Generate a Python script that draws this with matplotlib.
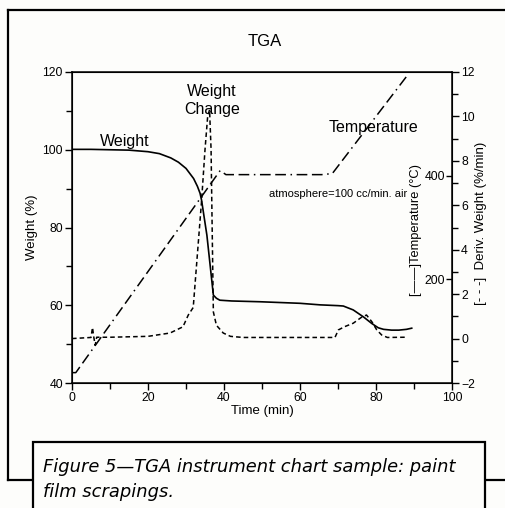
import numpy as np
import matplotlib
matplotlib.use("Agg")
import matplotlib.pyplot as plt
from matplotlib.lines import Line2D
from matplotlib.patches import Rectangle

plt.rcParams['font.family'] = ['Liberation Sans', 'DejaVu Sans']

# weight (%) vs time (min)
t_weight = [0, 5, 10, 15, 20, 23, 26, 28, 30, 31, 32, 33, 33.7, 34.1, 35.5,
            37.2, 38, 38.9, 42, 49.5, 60, 65.3, 70, 71.4, 74, 76.7, 78.9,
            80.6, 82, 84.1, 86, 88, 89.4]
weight = [100.1, 100.1, 100.0, 99.9, 99.5, 99.0, 97.9, 96.8, 95.2, 93.9, 92.6,
          90.6, 88.8, 87.0, 78.0, 62.6, 61.8, 61.3, 61.1, 60.9, 60.5, 60.1,
          59.9, 59.8, 58.8, 57.0, 55.3, 54.2, 53.8, 53.6, 53.6, 53.8, 54.1]

# derivative weight (%/min)
t_deriv = [0, 5, 5.4, 5.7, 6.1, 6.5, 10, 20, 25.8, 29.2, 30.6, 31.9, 34.1, 35.0,
           35.7, 36.2, 36.6, 36.8, 37.2, 38, 39.8, 41.7, 45, 55, 69.2, 70.1,
           71.8, 74, 76.2, 77.5, 78.9, 80.2, 81.5, 83, 87.6]
deriv = [0.0, 0.05, 0.5, 0.1, -0.3, 0.06, 0.06, 0.1, 0.25, 0.53, 1.06, 1.4, 6.2,
         8.5, 10.0, 10.3, 8.5, 6.0, 1.2, 0.6, 0.25, 0.1, 0.05, 0.05, 0.05, 0.39,
         0.54, 0.69, 0.96, 1.06, 0.76, 0.39, 0.16, 0.05, 0.06]

# temperature (degC)
t_temp = [0, 1, 39, 40.5, 65.7, 68.5, 88.1]
temp = [20, 20, 410, 402, 402, 404, 592]

x_ticks = [0, 20, 40, 60, 80, 100]
w_ticks = [40, 60, 80, 100, 120]
d_ticks = [-2, 0, 2, 4, 6, 8, 10, 12]
temp_ticks = [200, 400]

W, H = 505, 508
fig = plt.figure(figsize=(W / 100, H / 100), dpi=100)
fig.patch.set_facecolor('#fdfdfb')

def px(x, y):
    return x / W, 1 - y / H

ax = fig.add_axes([72 / W, 1 - 383 / H, 380 / W, 311 / H])
ax.set_facecolor('none')
ax.plot(t_weight, weight, color='black', lw=1.2)
ax.set_xlim(0, 100)
ax.set_ylim(40, 120)
ax.set_xticks(x_ticks)
ax.set_xticks(np.arange(10, 100, 20), minor=True)
ax.set_yticks(w_ticks)
ax.set_yticks([50, 70, 90, 110], minor=True)
ax.tick_params(direction='out', length=5, width=1, labelsize=8.8, pad=1.5)
ax.tick_params(which='minor', direction='out', length=4, width=1)
ax.tick_params(axis='y', right=False)
ax.set_xlabel('Time (min)', fontsize=9.5, labelpad=1)
ax.set_ylabel('Weight (%)', fontsize=9.5, labelpad=3)
for s in ax.spines.values():
    s.set_linewidth(1.1)

# derivative axis
ax2 = ax.twinx()
ax2.plot(t_deriv, deriv, color='black', lw=1.1, dashes=(3, 2))
ax2.set_ylim(-2, 12)
ax2.set_yticks(d_ticks)
ax2.set_yticks(np.arange(-1, 12, 2), minor=True)
ax2.tick_params(direction='out', length=5, width=1, labelsize=8.8, pad=1.5)
ax2.tick_params(which='minor', direction='out', length=4, width=1)
ax2.set_ylabel('[- - -]  Deriv. Weight (%/min)', fontsize=9.5)
ax2.yaxis.label.set_va('center')
ax2.yaxis.set_label_coords(1.076, 0.514)

# temperature axis, drawn on the right spine pointing inward
ax3 = ax.twinx()
ax3.plot(t_temp, temp, color='black', lw=1.1, dashes=(7, 3, 7, 3, 1, 3))
ax3.set_ylim(0, 600)
ax3.spines['left'].set_position(('axes', 1.0))
for side in ['left', 'right', 'top', 'bottom']:
    ax3.spines[side].set_visible(False)
ax3.yaxis.set_ticks_position('left')
ax3.yaxis.set_label_position('left')
ax3.set_yticks(temp_ticks)
ax3.tick_params(direction='out', length=4, width=1, labelsize=8.8, pad=1)
ax3.set_ylabel('[——]Temperature (°C)', fontsize=9.3)
ax3.yaxis.label.set_va('center')
ax3.yaxis.set_label_coords(0.906, 0.492)

# annotations
ax.text(7.4, 102.2, 'Weight', fontsize=11.5, va='center', ha='left')
ax.text(36.8, 112.6, 'Weight\nChange', fontsize=11.5, va='center', ha='center',
        linespacing=1.25)
ax.text(79.3, 105.8, 'Temperature', fontsize=11.5, va='center', ha='center')
ax.text(51.8, 88.6, 'atmosphere=100 cc/min. air', fontsize=8.0, va='center',
        ha='left')
fig.text(*px(265, 42), 'TGA', fontsize=12, ha='center', va='center')

# page frame and caption box
lw = 1.6
fig.add_artist(Line2D([8 / W, 1], [1 - 10 / H] * 2, color='black', lw=lw))
fig.add_artist(Line2D([8 / W] * 2, [1 - 10 / H, 1 - 480 / H], color='black', lw=lw))
fig.add_artist(Line2D([8 / W, 1], [1 - 480 / H] * 2, color='black', lw=lw))
fig.add_artist(Rectangle(px(33, 520), 452 / W, 78 / H, facecolor='#fdfdfb',
                         edgecolor='black', lw=lw, zorder=3))
fig.text(*px(43, 472), 'Figure 5—TGA instrument chart sample: paint',
         fontsize=12.9, style='italic', family='DejaVu Sans', va='baseline',
         zorder=4)
fig.text(*px(43, 497), 'film scrapings.', fontsize=12.9, style='italic',
         family='DejaVu Sans', va='baseline', zorder=4)

fig.savefig('out.png', dpi=100, facecolor=fig.get_facecolor())
